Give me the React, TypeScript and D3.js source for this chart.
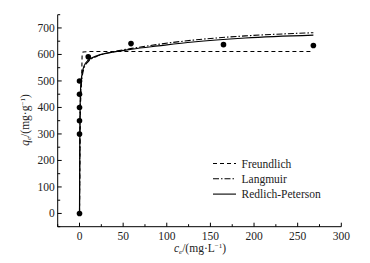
import React from "react";
import * as d3 from "d3";

const ceData = [0, 0, 0, 0, 0, 0, 10, 59, 165, 268];
const qeData = [0, 300, 350, 400, 450, 500, 591, 641, 637, 634];

const fitX = [0, 0.3, 1, 2, 3, 5, 10, 20, 40, 60, 90, 130, 190, 268];
const rpY = [0, 250, 450, 505, 528, 555, 578, 595, 610, 620, 632, 647, 662, 673];
const langY = [0, 230, 430, 488, 515, 547, 573, 593, 611, 623, 638, 654, 670, 682];

const freX = [0, 1, 2.5, 3, 4, 10, 268];
const freY = [0, 400, 520, 600, 609, 611, 611];

const xTicks = [0, 50, 100, 150, 200, 250, 300];
const yTicks = [0, 100, 200, 300, 400, 500, 600, 700];
const xMinor = [-25, 25, 75, 125, 175, 225, 275];
const yMinor = [-50, 50, 150, 250, 350, 450, 550, 650, 750];

const legendNames = ["Freundlich", "Langmuir", "Redlich-Peterson"];
const legendDash = ["4,3", "6,2,1.5,2", ""];

export default function App() {
  const W = 370, H = 263;
  const x = d3.scaleLinear().domain([-25, 300]).range([57.7, 341.3]);
  const y = d3.scaleLinear().domain([-50, 750]).range([226.7, 14.7]);
  const font = "'Liberation Serif', 'Times New Roman', serif";
  const line = (xs: number[], ys: number[], curve: any) =>
    d3.line<number>().x((_, i) => x(xs[i])).y((d) => y(d)).curve(curve)(ys) || "";
  const x0 = x(-25), y0 = y(-50);
  const fs = 11.5;
  return (
    <svg width={W} height={H} style={{ position: "absolute", left: 0, top: 0, background: "#fff" }} fontFamily={font}>
      <rect width={W} height={H} fill="#fff" />
      <line x1={x0} x2={x0} y1={y(750)} y2={y0} stroke="#000" strokeWidth={1} />
      <line x1={x0} x2={x(300)} y1={y0} y2={y0} stroke="#000" strokeWidth={1} />
      {xTicks.map((t) => (
        <g key={"xt" + t}>
          <line x1={x(t)} x2={x(t)} y1={y0} y2={y0 - 4} stroke="#000" />
          <text x={x(t)} y={y0 + 13} fontSize={fs} textAnchor="middle" fill="#222">{t}</text>
        </g>
      ))}
      {xMinor.map((t) => (
        <line key={"xm" + t} x1={x(t)} x2={x(t)} y1={y0} y2={y0 - 2.5} stroke="#000" />
      ))}
      {yTicks.map((t) => (
        <g key={"yt" + t}>
          <line x1={x0} x2={x0 + 4} y1={y(t)} y2={y(t)} stroke="#000" />
          <text x={x0 - 3} y={y(t) + 4} fontSize={fs} textAnchor="end" fill="#222">{t}</text>
        </g>
      ))}
      {yMinor.map((t) => (
        <line key={"ym" + t} x1={x0} x2={x0 + 2.5} y1={y(t)} y2={y(t)} stroke="#000" />
      ))}
      <path d={line(freX, freY, d3.curveLinear)} fill="none" stroke="#000" strokeWidth={1.1} strokeDasharray="4,3" />
      <path d={line(fitX, langY, d3.curveMonotoneX)} fill="none" stroke="#000" strokeWidth={1.1} strokeDasharray="6,2,1.5,2" />
      <path d={line(fitX, rpY, d3.curveMonotoneX)} fill="none" stroke="#000" strokeWidth={1.2} />
      {ceData.map((c, i) => (
        <circle key={"p" + i} cx={x(c)} cy={y(qeData[i])} r={2.8} fill="#000" />
      ))}
      {legendNames.map((n, i) => (
        <g key={n}>
          <line x1={213} x2={236} y1={163.5 + i * 15.3} y2={163.5 + i * 15.3} stroke="#000" strokeWidth={1.1}
            strokeDasharray={legendDash[i] || undefined} />
          <text x={241.5} y={167.5 + i * 15.3} fontSize={fs} fill="#222">{n}</text>
        </g>
      ))}
      <text x={200} y={252} fontSize={fs} textAnchor="middle" fill="#222">
        <tspan fontStyle="italic">c</tspan>
        <tspan fontStyle="italic" fontSize={7} dy={2}>e</tspan>
        <tspan dy={-2}>/(mg·L</tspan>
        <tspan fontSize={7} dy={-4}>−1</tspan>
        <tspan dy={4}>)</tspan>
      </text>
      <text transform="translate(29,120) rotate(-90)" fontSize={fs} textAnchor="middle" fill="#222">
        <tspan fontStyle="italic">q</tspan>
        <tspan fontStyle="italic" fontSize={7} dy={2}>e</tspan>
        <tspan dy={-2}>/(mg·g</tspan>
        <tspan fontSize={7} dy={-4}>−1</tspan>
        <tspan dy={4}>)</tspan>
      </text>
    </svg>
  );
}
